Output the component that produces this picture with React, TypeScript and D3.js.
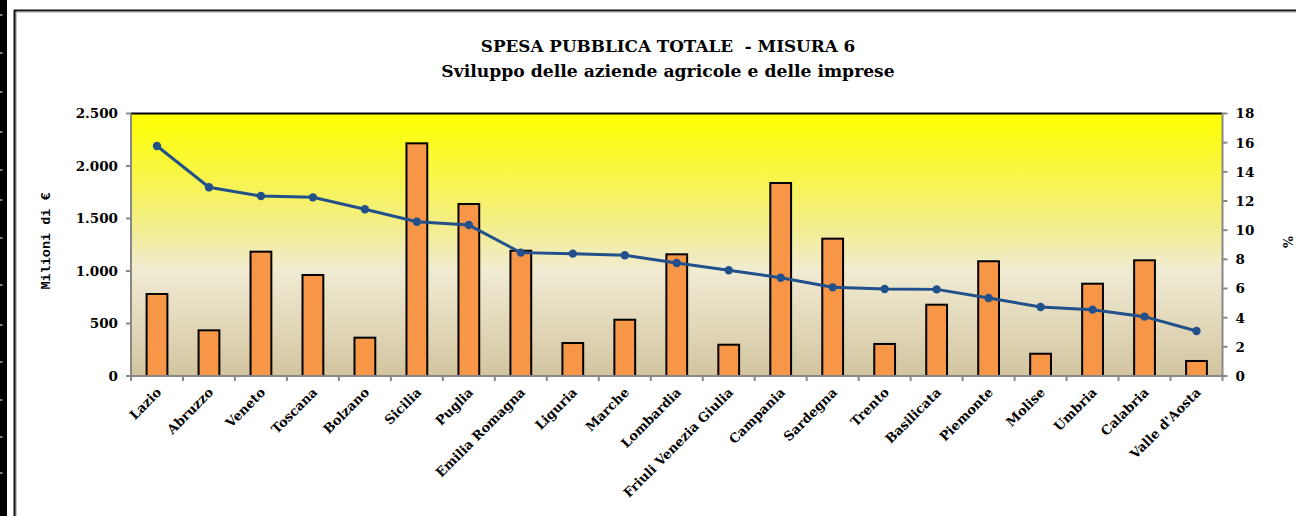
import React, { useEffect } from "react";
import * as d3 from "d3";

const categories = [
  "Lazio", "Abruzzo", "Veneto", "Toscana", "Bolzano", "Sicilia", "Puglia",
  "Emilia Romagna", "Liguria", "Marche", "Lombardia", "Friuli Venezia Giulia",
  "Campania", "Sardegna", "Trento", "Basilicata", "Piemonte", "Molise",
  "Umbria", "Calabria", "Valle d'Aosta",
];

// spesa pubblica (milioni di euro)
const spesa = [
  781, 435, 1184, 962, 365, 2216, 1638, 1193, 314, 536, 1159, 298, 1838,
  1308, 305, 679, 1093, 212, 879, 1102, 143,
];

// quota misura 6 (%)
const quota = [
  15.77, 12.94, 12.34, 12.25, 11.43, 10.58, 10.35, 8.46, 8.39, 8.28, 7.75,
  7.25, 6.74, 6.08, 5.97, 5.94, 5.35, 4.73, 4.55, 4.07, 3.09,
];

const leftTicks = [0, 500, 1000, 1500, 2000, 2500];
const rightTicks = [0, 2, 4, 6, 8, 10, 12, 14, 16, 18];
const rowMarks = [15, 53, 92, 132, 170, 200, 238, 285, 325, 362, 400, 437, 473];

const W = 1296;
const H = 516;
const M = { top: 113.5, left: 131, right: 1222.5, bottom: 376 };

const fmt = (v: number) => d3.format(",")(v).replace(/,/g, ".");

export default function App() {
  useEffect(() => {
    document.body.style.margin = "0";
  }, []);

  const band = d3.scaleBand<string>().domain(categories).range([M.left, M.right]);
  const yL = d3.scaleLinear().domain([0, 2500]).range([M.bottom, M.top]);
  const yR = d3.scaleLinear().domain([0, 18]).range([M.bottom, M.top]);

  const cx = (c: string) => (band(c) ?? 0) + band.bandwidth() / 2;
  const line = d3
    .line<number>()
    .x((_, i) => cx(categories[i]))
    .y((d) => yR(d));

  const font = "'DejaVu Serif', serif";
  const bw = band.bandwidth() * 0.4;

  return (
    <svg width={W} height={H} style={{ display: "block", background: "#fff" }}>
      <defs>
        <linearGradient id="bg" x1="0" y1="0" x2="0" y2="1">
          <stop offset="0%" stopColor="#FFFF00" />
          <stop offset="20%" stopColor="#F9F73C" />
          <stop offset="42%" stopColor="#F3EE88" />
          <stop offset="60%" stopColor="#F0EBD3" />
          <stop offset="80%" stopColor="#E2D8BA" />
          <stop offset="100%" stopColor="#D2C49F" />
        </linearGradient>
      </defs>

      {/* spreadsheet edge */}
      <rect x={0} y={0} width={7} height={H} fill="#000" />
      {rowMarks.map((r) => (
        <line key={r} x1={0} x2={2.5} y1={r} y2={r} stroke="#fff" strokeWidth={1} />
      ))}

      {/* chart frame */}
      <line x1={16} x2={16} y1={10} y2={H} stroke="#888" strokeWidth={1} />
      <line x1={14.5} x2={14.5} y1={10} y2={H} stroke="#111" strokeWidth={2} />
      <line x1={14} x2={W} y1={10.5} y2={10.5} stroke="#111" strokeWidth={2} />
      <line x1={16} x2={W} y1={12} y2={12} stroke="#999" strokeWidth={1} />

      {/* title */}
      <text x={668} y={52} textAnchor="middle" fontFamily={font} fontWeight="bold" fontSize={16.8}>
        SPESA PUBBLICA TOTALE {"\u00a0"}- MISURA 6
      </text>
      <text x={668} y={77} textAnchor="middle" fontFamily={font} fontWeight="bold" fontSize={17.2}>
        Sviluppo delle aziende agricole e delle imprese
      </text>

      {/* plot area */}
      <rect x={M.left} y={M.top} width={M.right - M.left} height={M.bottom - M.top} fill="url(#bg)" />
      <line x1={M.left} x2={M.right} y1={M.top} y2={M.top} stroke="#000" strokeWidth={2} />

      {/* bars */}
      {spesa.map((v, i) => (
        <rect
          key={categories[i]}
          x={cx(categories[i]) - bw / 2}
          y={yL(v)}
          width={bw}
          height={M.bottom - yL(v)}
          fill="#F79646"
          stroke="#000"
          strokeWidth={2}
        />
      ))}

      {/* axes */}
      <line x1={M.left} x2={M.left} y1={M.top} y2={M.bottom} stroke="#888" strokeWidth={2} />
      <line x1={M.right} x2={M.right} y1={M.top} y2={M.bottom} stroke="#888" strokeWidth={2} />
      <line x1={M.left} x2={M.right} y1={M.bottom} y2={M.bottom} stroke="#888" strokeWidth={2} />
      {leftTicks.map((t) => (
        <g key={t}>
          <line x1={M.left - 5} x2={M.left} y1={yL(t)} y2={yL(t)} stroke="#888" strokeWidth={2} />
          <text x={M.left - 13} y={yL(t)} dy="0.36em" textAnchor="end" fontFamily={font} fontWeight="bold" fontSize={13.5}>
            {fmt(t)}
          </text>
        </g>
      ))}
      {rightTicks.map((t) => (
        <g key={t}>
          <line x1={M.right} x2={M.right + 5} y1={yR(t)} y2={yR(t)} stroke="#888" strokeWidth={2} />
          <text x={M.right + 13} y={yR(t)} dy="0.36em" textAnchor="start" fontFamily={font} fontWeight="bold" fontSize={13.5}>
            {t}
          </text>
        </g>
      ))}
      {categories.map((c) => (
        <line key={c} x1={band(c)} x2={band(c)} y1={M.bottom} y2={M.bottom + 5} stroke="#888" strokeWidth={2} />
      ))}
      <line x1={M.right} x2={M.right} y1={M.bottom} y2={M.bottom + 5} stroke="#888" strokeWidth={2} />

      {/* category labels */}
      {categories.map((c) => (
        <text
          key={c}
          transform={`translate(${cx(c) + 2},${M.bottom + 14}) rotate(-45)`}
          textAnchor="end"
          dy="0.35em"
          fontFamily={font}
          fontWeight="bold"
          fontSize={13}
        >
          {c}
        </text>
      ))}

      {/* line series */}
      <path d={line(quota) ?? ""} fill="none" stroke="#22508B" strokeWidth={3} />
      {quota.map((v, i) => (
        <circle key={i} cx={cx(categories[i])} cy={yR(v)} r={4.2} fill="#22508B" />
      ))}

      {/* axis titles */}
      <text
        transform={`translate(50,241) rotate(-90)`}
        textAnchor="middle"
        fontFamily="'Liberation Mono', monospace"
        fontWeight="bold"
        fontSize={13.5}
      >
        Milioni di €
      </text>
      <text
        transform={`translate(1293,242) rotate(-90)`}
        textAnchor="middle"
        fontFamily={font}
        fontWeight="bold"
        fontSize={12.5}
      >
        %
      </text>
    </svg>
  );
}
